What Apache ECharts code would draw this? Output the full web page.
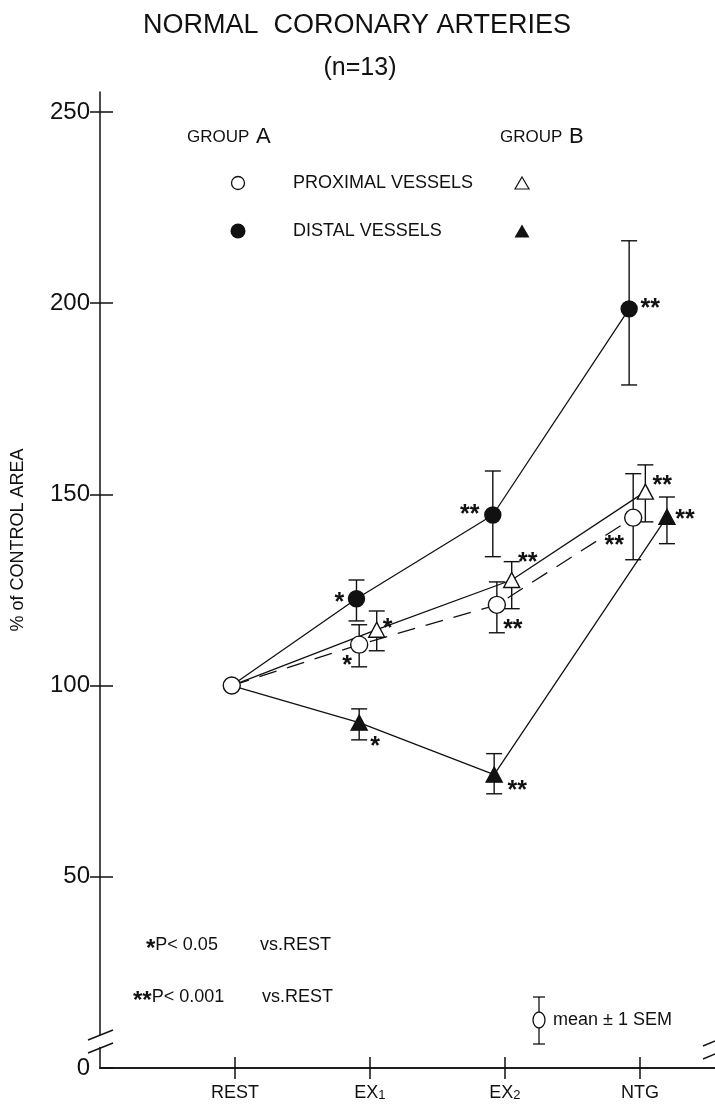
<!DOCTYPE html>
<html><head><meta charset="utf-8">
<script src="https://cdn.jsdelivr.net/npm/echarts@6/dist/echarts.min.js"></script>
<style>html,body{margin:0;padding:0;background:#fff}#c{width:715px;height:1104px}</style>
</head><body><div id="c"></div><script>
// ---------- DATA ----------
const categories = ['REST', 'EX1', 'EX2', 'NTG'];
const categoryPos = [1, 2, 3, 4];
const yTicks = [0, 50, 100, 150, 200, 250];
const yTicksRight = [50, 100, 150, 200, 250];

// x locations of each group's points along the category axis (1=REST ... 4=NTG)
const proxA_x = [0.976, 1.92, 2.94, 3.95];
const proxA_mean = [100, 110.7, 121.1, 143.9];
const proxA_lo = [null, 104.9, 113.8, 132.9];
const proxA_hi = [null, 115.9, 127.1, 155.4];
const proxA_sig = ['', '*', '**', '**'];

const distA_x = [0.976, 1.90, 2.91, 3.92];
const distA_mean = [100, 122.7, 144.6, 198.5];
const distA_lo = [null, 116.9, 133.7, 178.6];
const distA_hi = [null, 127.6, 156.1, 216.3];
const distA_sig = ['', '*', '**', '**'];

const proxB_x = [0.976, 2.05, 3.05, 4.04];
const proxB_mean = [100, 114.6, 127.6, 150.7];
const proxB_lo = [null, 109.1, 120.1, 142.8];
const proxB_hi = [null, 119.5, 132.4, 157.7];
const proxB_sig = ['', '*', '**', '**'];

const distB_x = [0.976, 1.92, 2.92, 4.20];
const distB_mean = [100, 90.3, 76.7, 144.1];
const distB_lo = [null, 85.8, 71.7, 137.1];
const distB_hi = [null, 93.9, 82.2, 149.3];
const distB_sig = ['', '*', '**', '**'];

// ---------- STYLE ----------
const BLACK = '#111';
const FONT = '"Liberation Sans", Arial, sans-serif';
const STAR_DY = 8;
const groups = [
  {xs: proxA_x, mean: proxA_mean, lo: proxA_lo, hi: proxA_hi, sig: proxA_sig,
   symbol: 'circle', size: 17, fill: '#fff', dash: [18, 11], showFirst: true,
   starOff: [null, [-12, 13], [16, 17], [-19, 20]]},
  {xs: distA_x, mean: distA_mean, lo: distA_lo, hi: distA_hi, sig: distA_sig,
   symbol: 'circle', size: 16, fill: BLACK, dash: null, showFirst: false,
   starOff: [null, [-17, -4], [-23, -8], [21, -8]]},
  {xs: proxB_x, mean: proxB_mean, lo: proxB_lo, hi: proxB_hi, sig: proxB_sig,
   symbol: 'triangle', size: [16, 15], fill: '#fff', dash: null, showFirst: false,
   starOff: [null, [11, -9], [16, -25], [17, -14]]},
  {xs: distB_x, mean: distB_mean, lo: distB_lo, hi: distB_hi, sig: distB_sig,
   symbol: 'triangle', size: [16, 15], fill: BLACK, dash: null, showFirst: false,
   starOff: [null, [16, 16], [23, 8], [18, -5]]}
];

const series = [];
groups.forEach(g => {
  series.push({
    type: 'line', z: 1, silent: true, symbol: 'none', showSymbol: false,
    data: g.xs.map((x, i) => [x, g.mean[i]]),
    lineStyle: {color: BLACK, width: 1.3, type: g.dash || 'solid'}
  });
});
groups.forEach(g => {
  const data = [];
  g.xs.forEach((x, i) => { if (g.lo[i] != null) data.push([x, g.lo[i], g.hi[i]]); });
  series.push({
    type: 'custom', z: 2, silent: true, data,
    encode: {x: 0, y: [1, 2]},
    renderItem(params, api) {
      const x = api.value(0);
      const p1 = api.coord([x, api.value(1)]);
      const p2 = api.coord([x, api.value(2)]);
      const w = 8, st = {stroke: BLACK, lineWidth: 1.4};
      return {type: 'group', children: [
        {type: 'line', shape: {x1: p1[0], y1: p1[1], x2: p2[0], y2: p2[1]}, style: st},
        {type: 'line', shape: {x1: p1[0] - w, y1: p1[1], x2: p1[0] + w, y2: p1[1]}, style: st},
        {type: 'line', shape: {x1: p2[0] - w, y1: p2[1], x2: p2[0] + w, y2: p2[1]}, style: st}
      ]};
    }
  });
});
groups.forEach(g => {
  const data = [];
  g.xs.forEach((x, i) => {
    if (i === 0 && !g.showFirst) return;
    const off = g.starOff[i] || [0, 0];
    data.push({value: [x, g.mean[i]],
      label: {show: !!g.sig[i], formatter: g.sig[i] || '', offset: [off[0], off[1] + STAR_DY]}});
  });
  series.push({
    type: 'scatter', z: 3, silent: true, symbol: g.symbol, symbolSize: g.size,
    itemStyle: {color: g.fill, borderColor: BLACK, borderWidth: 1.4, opacity: 1},
    label: {position: 'inside', color: BLACK, fontSize: 25, fontWeight: 'bold', fontFamily: FONT,
      align: 'center', verticalAlign: 'middle'},
    data
  });
});

const axisLineStyle = {show: true, lineStyle: {color: BLACK, width: 1.5}};
const tri = (cx, cy, w, h) => [[cx, cy - h / 2], [cx + w / 2, cy + h / 2], [cx - w / 2, cy + h / 2]];
const txt = (x, y, text, size, extra) => Object.assign({type: 'text', x, y, z: 50,
  style: Object.assign({text, fill: BLACK, font: size + 'px ' + FONT, align: 'left', verticalAlign: 'middle'}, extra || {})});
const noteRich = {
  s: {fontSize: 24, fontWeight: 'bold', fontFamily: FONT, fill: BLACK, padding: [9, 0, 0, 0]},
  t: {fontSize: 18, fontFamily: FONT, fill: BLACK}
};

const option = {
  animation: false,
  backgroundColor: '#fff',
  grid: {left: 100, right: 0, top: 92, bottom: 36, containLabel: false},
  xAxis: [
    {type: 'value', position: 'bottom', min: 0, max: 4.556,
     axisLine: axisLineStyle, splitLine: {show: false},
     axisTick: {show: true, inside: true, length: 11, customValues: categoryPos, lineStyle: {color: BLACK, width: 1.5}},
     axisLabel: {show: true, customValues: categoryPos, margin: 16,
       formatter: v => { const c = categories[Math.round(v) - 1] || ''; const m = c.match(/^(\D+)(\d)$/); return m ? m[1] + '{s|' + m[2] + '}' : c; },
       color: BLACK, fontSize: 18, fontFamily: FONT,
       rich: {s: {fontSize: 13, fontFamily: FONT, color: BLACK, padding: [5, 0, 0, 0]}}}},
    {type: 'value', position: 'top', min: 0, max: 4.556,
     axisLine: axisLineStyle, splitLine: {show: false},
     axisTick: {show: true, inside: true, length: 11, customValues: categoryPos, lineStyle: {color: BLACK, width: 1.5}},
     axisLabel: {show: false}}
  ],
  yAxis: [
    {type: 'value', position: 'left', min: 0, max: 255.2,
     axisLine: axisLineStyle, splitLine: {show: false},
     axisTick: {show: true, inside: true, length: 13, customValues: yTicks, lineStyle: {color: BLACK, width: 1.5}},
     axisLabel: {show: true, customValues: yTicks, margin: 10, color: BLACK, fontSize: 24, fontFamily: FONT}},
    {type: 'value', position: 'right', min: 0, max: 255.2,
     axisLine: {show: false}, splitLine: {show: false},
     axisTick: {show: true, inside: true, length: 10, customValues: yTicksRight, lineStyle: {color: BLACK, width: 1.5}},
     axisLabel: {show: false}}
  ],
  series,
  graphic: [
    txt(357, 26, 'NORMAL  CORONARY ARTERIES', 27, {align: 'center'}),
    txt(360, 68, '(n=13)', 25, {align: 'center'}),
    {type: 'text', x: 18, y: 540, rotation: Math.PI / 2, z: 50,
     style: {text: '% of CONTROL AREA', fill: BLACK, font: '18px ' + FONT, align: 'center', verticalAlign: 'middle'}},
    // legend
    {type: 'text', x: 187, y: 137, z: 50, style: {text: '{a|GROUP}  {b|A}', verticalAlign: 'middle',
      rich: {a: {fontSize: 17, fontFamily: FONT, fill: BLACK}, b: {fontSize: 22, fontFamily: FONT, fill: BLACK}}}},
    {type: 'text', x: 500, y: 137, z: 50, style: {text: '{a|GROUP}  {b|B}', verticalAlign: 'middle',
      rich: {a: {fontSize: 17, fontFamily: FONT, fill: BLACK}, b: {fontSize: 22, fontFamily: FONT, fill: BLACK}}}},
    {type: 'circle', z: 50, shape: {cx: 238, cy: 183, r: 6.5}, style: {fill: '#fff', stroke: BLACK, lineWidth: 1.3}},
    txt(293, 183, 'PROXIMAL VESSELS', 18),
    {type: 'polygon', z: 50, shape: {points: tri(522, 183, 14, 12)}, style: {fill: '#fff', stroke: BLACK, lineWidth: 1.2}},
    {type: 'circle', z: 50, shape: {cx: 238, cy: 231, r: 7.5}, style: {fill: BLACK}},
    txt(293, 231, 'DISTAL VESSELS', 18),
    {type: 'polygon', z: 50, shape: {points: tri(522, 231, 15, 13)}, style: {fill: BLACK}},
    // footnotes
    {type: 'text', x: 146, y: 945, z: 50, style: {text: '{s|*}{t|P< 0.05}', verticalAlign: 'middle', rich: noteRich}},
    txt(260, 945, 'vs.REST', 18),
    {type: 'text', x: 133, y: 997, z: 50, style: {text: '{s|**}{t|P< 0.001}', verticalAlign: 'middle', rich: noteRich}},
    txt(262, 997, 'vs.REST', 18),
    // SEM key
    {type: 'line', z: 50, shape: {x1: 539, y1: 997, x2: 539, y2: 1044}, style: {stroke: BLACK, lineWidth: 1.3}},
    {type: 'line', z: 50, shape: {x1: 533, y1: 997, x2: 545, y2: 997}, style: {stroke: BLACK, lineWidth: 1.3}},
    {type: 'line', z: 50, shape: {x1: 533, y1: 1044, x2: 545, y2: 1044}, style: {stroke: BLACK, lineWidth: 1.3}},
    {type: 'ellipse', z: 51, shape: {cx: 539, cy: 1020, rx: 6, ry: 8}, style: {fill: '#fff', stroke: BLACK, lineWidth: 1.3}},
    txt(553, 1020, 'mean ± 1 SEM', 18),
    // axis breaks
    {type: 'rect', z: 60, shape: {x: 95, y: 1035, width: 10, height: 12}, style: {fill: '#fff'}},
    {type: 'line', z: 61, shape: {x1: 88, y1: 1040, x2: 113, y2: 1030}, style: {stroke: BLACK, lineWidth: 1.4}},
    {type: 'line', z: 61, shape: {x1: 88, y1: 1053, x2: 113, y2: 1043}, style: {stroke: BLACK, lineWidth: 1.4}},
    {type: 'line', z: 61, shape: {x1: 703, y1: 1046, x2: 720, y2: 1039}, style: {stroke: BLACK, lineWidth: 1.4}},
    {type: 'line', z: 61, shape: {x1: 703, y1: 1059, x2: 720, y2: 1052}, style: {stroke: BLACK, lineWidth: 1.4}}
  ]
};
const chart = echarts.init(document.getElementById('c'));
chart.setOption(option);
</script></body></html>
